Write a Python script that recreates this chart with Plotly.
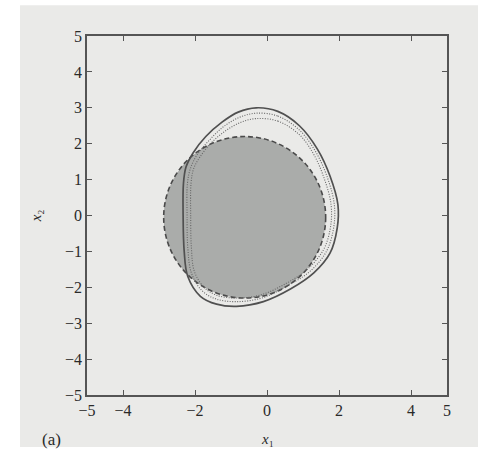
import plotly.graph_objects as go

# Outer solid boundary
solid_x = [-0.3, 0.3, 0.9, 1.4, 1.75, 1.97, 1.95, 1.75, 1.3, 0.65, -0.1, -0.85, -1.4, -1.85, -2.2, -2.3, -2.33, -2.32, -2.25, -2.05, -1.7, -1.25, -0.8, -0.3]
solid_y = [3.0, 2.9, 2.5, 1.85, 1.1, 0.3, -0.35, -1.05, -1.6, -2.05, -2.4, -2.53, -2.47, -2.25, -1.7, -1.0, 0.0, 0.9, 1.35, 1.75, 2.2, 2.6, 2.88, 3.0]

# Dotted intermediate boundaries
dot1_x = [-0.3, 0.3, 0.9, 1.35, 1.68, 1.87, 1.85, 1.65, 1.2, 0.55, -0.15, -0.85, -1.4, -1.8, -2.1, -2.2, -2.22, -2.21, -2.13, -1.95, -1.6, -1.2, -0.75, -0.3]
dot1_y = [2.85, 2.77, 2.38, 1.78, 1.05, 0.3, -0.35, -1.0, -1.55, -1.97, -2.3, -2.4, -2.33, -2.1, -1.6, -0.9, 0.0, 0.9, 1.3, 1.68, 2.1, 2.48, 2.74, 2.85]
dot2_x = [-0.3, 0.3, 0.9, 1.3, 1.6, 1.78, 1.76, 1.57, 1.12, 0.48, -0.2, -0.85, -1.4, -1.75, -2.02, -2.1, -2.12, -2.11, -2.04, -1.87, -1.55, -1.15, -0.72, -0.3]
dot2_y = [2.7, 2.63, 2.25, 1.7, 1.0, 0.3, -0.35, -0.95, -1.5, -1.92, -2.22, -2.3, -2.22, -2.0, -1.55, -0.9, 0.0, 0.9, 1.3, 1.62, 2.02, 2.36, 2.6, 2.7]

# Shaded disc
disc_center = (-0.62, -0.05)
disc_radius = 2.25

x_ticks = [-5, -4, -2, 0, 2, 4, 5]
y_ticks = [-5, -4, -3, -2, -1, 0, 1, 2, 3, 4, 5]

fig = go.Figure()
fig.add_trace(go.Scatter(x=dot2_x, y=dot2_y, mode="lines", line=dict(color="#666666", width=1.1, dash="1px,1.5px", shape="spline", smoothing=1.0), hoverinfo="skip"))
fig.add_trace(go.Scatter(x=dot1_x, y=dot1_y, mode="lines", line=dict(color="#666666", width=1.1, dash="1px,1.5px", shape="spline", smoothing=1.0), hoverinfo="skip"))
fig.add_trace(go.Scatter(x=solid_x, y=solid_y, mode="lines", line=dict(color="#505050", width=1.7, shape="spline", smoothing=1.0), hoverinfo="skip"))

cx, cy = disc_center
fig.add_shape(type="rect", xref="paper", yref="paper", x0=-0.186, x1=1.09, y0=-0.145, y1=1.086,
              fillcolor="#eaeae8", line=dict(width=0), layer="below")
fig.add_shape(type="circle", xref="x", yref="y", x0=cx - disc_radius, x1=cx + disc_radius,
              y0=cy - disc_radius, y1=cy + disc_radius,
              fillcolor="#aaacaa", line=dict(color="#4a4a4a", width=1.6, dash="5px,3px"), layer="below")

axis_common = dict(showgrid=False, zeroline=False, showline=True, mirror="ticks", linecolor="#555555",
                   linewidth=1.5, ticks="inside", ticklen=5, tickwidth=1.2, tickcolor="#555555",
                   tickfont=dict(family="Liberation Serif", size=16, color="#2a2a2a"))
fig.update_xaxes(range=[-5, 5], tickvals=x_ticks, ticktext=[str(v).replace("-", "\u2212") for v in x_ticks], **axis_common)
fig.update_yaxes(range=[-5, 5], tickvals=y_ticks, ticktext=[str(v).replace("-", "\u2212") for v in y_ticks], **axis_common)

fig.add_annotation(text="<i>x</i>\u2081", xref="paper", yref="paper", x=0.5, y=-0.15, showarrow=False,
                   font=dict(family="Liberation Serif", size=15, color="#2a2a2a"))
fig.add_annotation(text="<i>x</i>\u2082", xref="paper", yref="paper", x=-0.17, y=0.5, showarrow=False,
                   textangle=-90, font=dict(family="Liberation Serif", size=15, color="#2a2a2a"))
fig.add_annotation(text="(a)", xref="paper", yref="paper", x=-0.13, y=-0.156, showarrow=False,
                   font=dict(family="Liberation Serif", size=17, color="#2a2a2a"))

fig.update_layout(width=478, height=459, margin=dict(l=87, r=31, t=36, b=64),
                  paper_bgcolor="white", plot_bgcolor="rgba(0,0,0,0)", showlegend=False)
fig.write_html("out.html", config={"displayModeBar": False},
               post_script="document.body.style.margin='0';document.body.style.overflow='hidden';")
